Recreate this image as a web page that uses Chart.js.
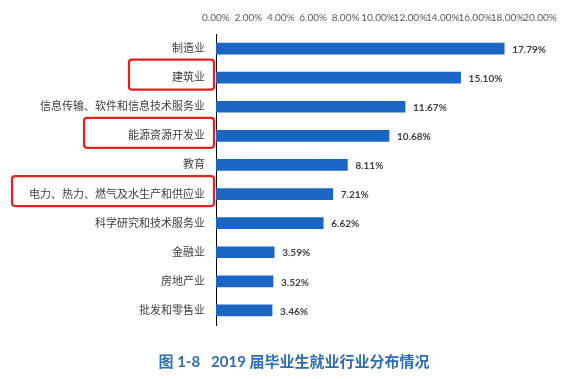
<!DOCTYPE html>
<html><head><meta charset="utf-8">
<script src="https://cdn.jsdelivr.net/npm/chart.js@4/dist/chart.umd.min.js"></script>
<style>html,body{margin:0;padding:0;background:#fff}#w{width:588px;height:379px}</style>
</head><body><div id="w"><canvas id="c"></canvas></div>
<script>
const categories = ['制造业','建筑业','信息传输、软件和信息技术服务业','能源资源开发业','教育','电力、热力、燃气及水生产和供应业','科学研究和技术服务业','金融业','房地产业','批发和零售业'];
const shares = [17.79, 15.10, 11.67, 10.68, 8.11, 7.21, 6.62, 3.59, 3.52, 3.46];
const tickValues = [0,2,4,6,8,10,12,14,16,18,20];
const highlighted = [1, 3, 5];
const highlightPad = [43, 44, 17];
const titleText = '图 1-8   2019 届毕业生就业行业分布情况';

const FONT = "Lato, 'Noto Sans CJK SC', sans-serif";

const valueLabels = {
  id: 'valueLabels',
  afterDatasetsDraw(chart) {
    const ctx = chart.ctx;
    const meta = chart.getDatasetMeta(0);
    ctx.save();
    ctx.font = "bold 10px " + FONT;
    ctx.fillStyle = '#404040';
    ctx.textBaseline = 'middle';
    ctx.textAlign = 'left';
    meta.data.forEach((bar, i) => {
      ctx.fillText(shares[i].toFixed(2) + '%', bar.x + 8, bar.y + 1);
    });
    ctx.restore();
  }
};

const redBoxes = {
  id: 'redBoxes',
  afterDraw(chart) {
    const ctx = chart.ctx;
    const ys = chart.scales.y;
    ctx.save();
    ctx.font = "11px " + FONT;
    const right = ys.right - 2;
    const textRight = ys.right - 11;
    highlighted.forEach((idx, k) => {
      const w = ctx.measureText(categories[idx]).width;
      const left = textRight - w - highlightPad[k];
      const cy = ys.getPixelForValue(idx) - 3;
      const top = cy - 15, h = 30;
      ctx.beginPath();
      ctx.roundRect(left, top, right - left, h, 3);
      ctx.lineWidth = 2.2;
      ctx.strokeStyle = '#E3201C';
      ctx.stroke();
    });
    ctx.restore();
  }
};

const bottomTitle = {
  id: 'bottomTitle',
  afterDraw(chart) {
    const ctx = chart.ctx;
    ctx.save();
    ctx.font = "bold 15px " + FONT;
    ctx.fillStyle = '#2E6EB5';
    ctx.textAlign = 'center';
    ctx.textBaseline = 'middle';
    ctx.fillText(titleText, chart.width / 2, chart.chartArea.bottom + 37);
    ctx.restore();
  }
};

new Chart(document.getElementById('c'), {
  type: 'bar',
  data: {
    labels: categories,
    datasets: [{
      data: shares,
      backgroundColor: '#1A66C2',
      barThickness: 11
    }]
  },
  options: {
    indexAxis: 'y',
    responsive: true,
    maintainAspectRatio: false,
    animation: false,
    layout: { padding: { top: 0, right: 48, left: 0, bottom: 54 } },
    plugins: {
      legend: { display: false },
      tooltip: { enabled: false },
      title: { display: false }
    },
    scales: {
      x: {
        position: 'top',
        min: 0, max: 20,
        afterBuildTicks(s) { s.ticks = tickValues.map(v => ({ value: v })); },
        afterFit(s) { s.height = 34; },
        grid: { display: false, drawTicks: false },
        border: { display: false },
        ticks: {
          autoSkip: false, maxRotation: 0, minRotation: 0,
          padding: 10,
          color: '#595959',
          font: { family: FONT, size: 10 },
          callback: v => Number(v).toFixed(2) + '%'
        }
      },
      y: {
        afterFit(s) { s.width = 216; },
        grid: { display: false, drawTicks: false },
        border: { display: true, color: '#000', width: 1 },
        ticks: {
          padding: 11,
          color: '#404040',
          font: { family: FONT, size: 11 },
          autoSkip: false
        }
      }
    }
  },
  plugins: [valueLabels, redBoxes, bottomTitle]
});
</script>
</body></html>
